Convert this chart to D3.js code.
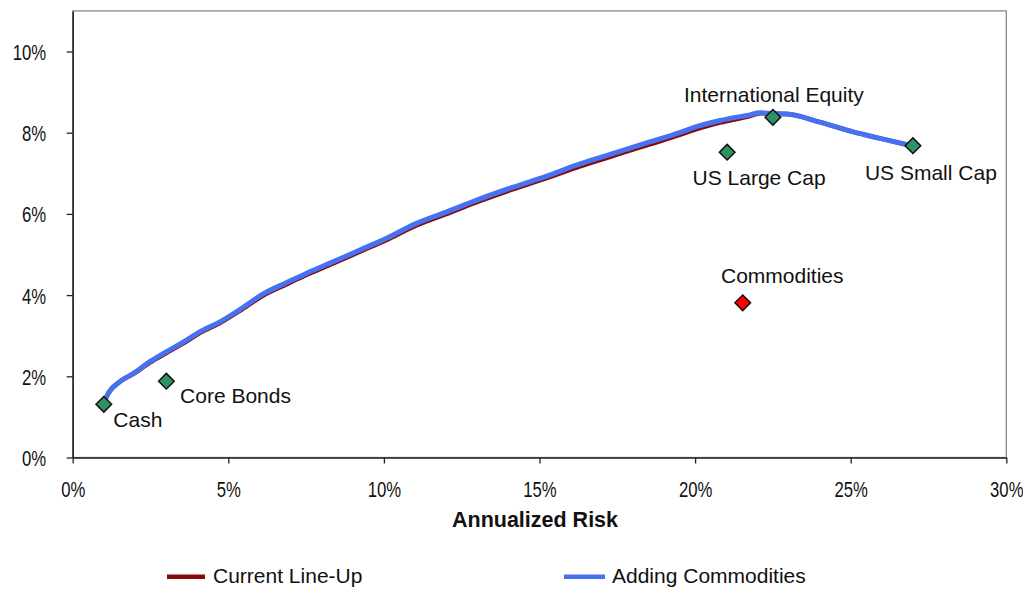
<!DOCTYPE html>
<html>
<head>
<meta charset="utf-8">
<script src="https://cdn.jsdelivr.net/npm/d3@7"></script>
<style>
  html, body { margin: 0; padding: 0; background: #fff; }
  svg { display: block; font-family: "Liberation Sans", Arial, sans-serif; }
</style>
</head>
<body>
<svg id="chart" width="1023" height="589"></svg>
<script>
// Efficient frontier: annualized risk (%) vs expected return (%)
const frontierRisk = [1.00, 1.09, 1.52, 1.95, 2.48, 3.02, 3.66, 4.09, 4.73, 5.38, 6.12, 6.88, 7.52, 8.37,
  9.23, 10.09, 10.94, 12.02, 13.09, 14.16, 15.23, 16.30, 17.37, 18.44, 19.53, 20.05, 20.80, 21.76,
  22.09, 22.50, 22.95, 24.01, 25.08, 25.94, 27.00];
const returnCurrent = [1.31, 1.50, 1.87, 2.06, 2.34, 2.58, 2.86, 3.07, 3.31, 3.62, 3.99, 4.27, 4.50, 4.78,
  5.07, 5.36, 5.68, 6.00, 6.32, 6.61, 6.88, 7.17, 7.43, 7.69, 7.95, 8.09, 8.25, 8.41,
  8.48, 8.47, 8.46, 8.26, 8.02, 7.86, 7.67];
const returnAdding = [1.31, 1.50, 1.87, 2.07, 2.36, 2.61, 2.89, 3.10, 3.34, 3.65, 4.03, 4.31, 4.54, 4.82,
  5.11, 5.40, 5.73, 6.05, 6.37, 6.66, 6.93, 7.23, 7.49, 7.75, 8.01, 8.15, 8.30, 8.44,
  8.49, 8.47, 8.46, 8.26, 8.02, 7.86, 7.67];

// Individual asset classes
const assetNames = ["Cash", "Core Bonds", "International Equity", "US Large Cap", "US Small Cap", "Commodities"];
const assetRisk = [1.00, 3.01, 22.50, 21.03, 27.00, 21.53];
const assetReturn = [1.31, 1.88, 8.38, 7.52, 7.68, 3.81];
const assetIsNew = [false, false, false, false, false, true];

const xTicks = [0, 5, 10, 15, 20, 25, 30];
const yTicks = [0, 2, 4, 6, 8, 10];

const seriesNames = ["Current Line-Up", "Adding Commodities"];

// Label placement around each marker: [dx, dy, anchor]
const labelPlacement = [
  [9.5, 22.7, "start"],
  [13.7, 22, "start"],
  [1, -15.6, "middle"],
  [-34.6, 32.7, "start"],
  [-48, 34.3, "start"],
  [-21.7, -19.7, "start"]
];

const svg = d3.select("#chart");
const plotLeft = 72.7, plotRight = 1006.3, plotTop = 10.9, plotBottom = 457.5;

const x = d3.scaleLinear().domain([0, 30]).range([plotLeft, plotRight]);
const y = d3.scaleLinear().domain([0, 11]).range([plotBottom, plotTop]);

// Plot frame
svg.append("rect")
  .attr("x", plotLeft).attr("y", plotTop)
  .attr("width", plotRight - plotLeft).attr("height", plotBottom - plotTop)
  .attr("fill", "none").attr("stroke", "#8a8a8a").attr("stroke-width", 1.3);

const pct = v => v + "%";
const tickScale = 0.76;

// Y axis
const yAxis = svg.append("g")
  .attr("transform", `translate(${plotLeft},0)`)
  .call(d3.axisLeft(y).tickValues(yTicks).tickFormat(pct).tickSize(6).tickSizeOuter(0));
yAxis.select(".domain").attr("stroke", "#222").attr("stroke-width", 1.5);
yAxis.selectAll(".tick line").attr("stroke", "#222").attr("stroke-width", 1.3);
yAxis.selectAll(".tick text")
  .attr("x", -26.5 / tickScale).attr("dy", "0.36em")
  .attr("transform", `scale(${tickScale},1)`)
  .attr("font-size", 22).attr("fill", "#111")
  .attr("font-family", "Liberation Sans, Arial, sans-serif");

// X axis
const xAxis = svg.append("g")
  .attr("transform", `translate(0,${plotBottom})`)
  .call(d3.axisBottom(x).tickValues(xTicks).tickFormat(pct).tickSize(6).tickSizeOuter(0));
xAxis.select(".domain").attr("stroke", "#222").attr("stroke-width", 1.5);
xAxis.selectAll(".tick line").attr("stroke", "#222").attr("stroke-width", 1.3);
xAxis.selectAll(".tick text")
  .attr("x", 0).attr("y", 39.5).attr("dy", 0)
  .attr("transform", `scale(${tickScale},1)`)
  .attr("font-size", 22).attr("fill", "#111")
  .attr("font-family", "Liberation Sans, Arial, sans-serif");

svg.append("text")
  .attr("x", 535).attr("y", 527)
  .attr("text-anchor", "middle")
  .attr("font-size", 21.5).attr("font-weight", "bold").attr("fill", "#111")
  .text("Annualized Risk");

// Frontier lines
const line = d3.line().x(d => x(d[0])).y(d => y(d[1])).curve(d3.curveMonotoneX);
const currentPts = frontierRisk.map((r, i) => [r, returnCurrent[i]]);
const addingPts = frontierRisk.map((r, i) => [r, returnAdding[i]]);

svg.append("path").datum(currentPts)
  .attr("d", line).attr("fill", "none")
  .attr("stroke", "#870a0a").attr("stroke-width", 4.5)
  .attr("stroke-linejoin", "round");
svg.append("path").datum(addingPts)
  .attr("d", line).attr("fill", "none")
  .attr("stroke", "#4672f2").attr("stroke-width", 5)
  .attr("stroke-linejoin", "round");

// Asset markers
const diamond = d3.symbol().type(d3.symbolDiamond2).size(155);
svg.selectAll("path.asset")
  .data(assetNames)
  .join("path")
  .attr("class", "asset")
  .attr("transform", (d, i) => `translate(${x(assetRisk[i])},${y(assetReturn[i])})`)
  .attr("d", diamond)
  .attr("fill", (d, i) => assetIsNew[i] ? "#ff0000" : "#2f9262")
  .attr("stroke", "#111").attr("stroke-width", 1.5);

svg.selectAll("text.asset-label")
  .data(assetNames)
  .join("text")
  .attr("class", "asset-label")
  .attr("x", (d, i) => x(assetRisk[i]) + labelPlacement[i][0])
  .attr("y", (d, i) => y(assetReturn[i]) + labelPlacement[i][1])
  .attr("text-anchor", (d, i) => labelPlacement[i][2])
  .attr("font-size", 21).attr("fill", "#111")
  .text(d => d);

// Legend
const legendColors = ["#870a0a", "#4672f2"];
const legendX = [167, 564];
const legend = svg.selectAll("g.legend")
  .data(seriesNames)
  .join("g")
  .attr("class", "legend")
  .attr("transform", (d, i) => `translate(${legendX[i]},576.7)`);
legend.append("line")
  .attr("x1", 0).attr("x2", (d, i) => i === 0 ? 38 : 41)
  .attr("y1", 0).attr("y2", 0)
  .attr("stroke", (d, i) => legendColors[i]).attr("stroke-width", 4.5);
legend.append("text")
  .attr("x", (d, i) => i === 0 ? 46 : 48)
  .attr("y", 6.5)
  .attr("font-size", 21).attr("fill", "#111")
  .text(d => d);
</script>
</body>
</html>
